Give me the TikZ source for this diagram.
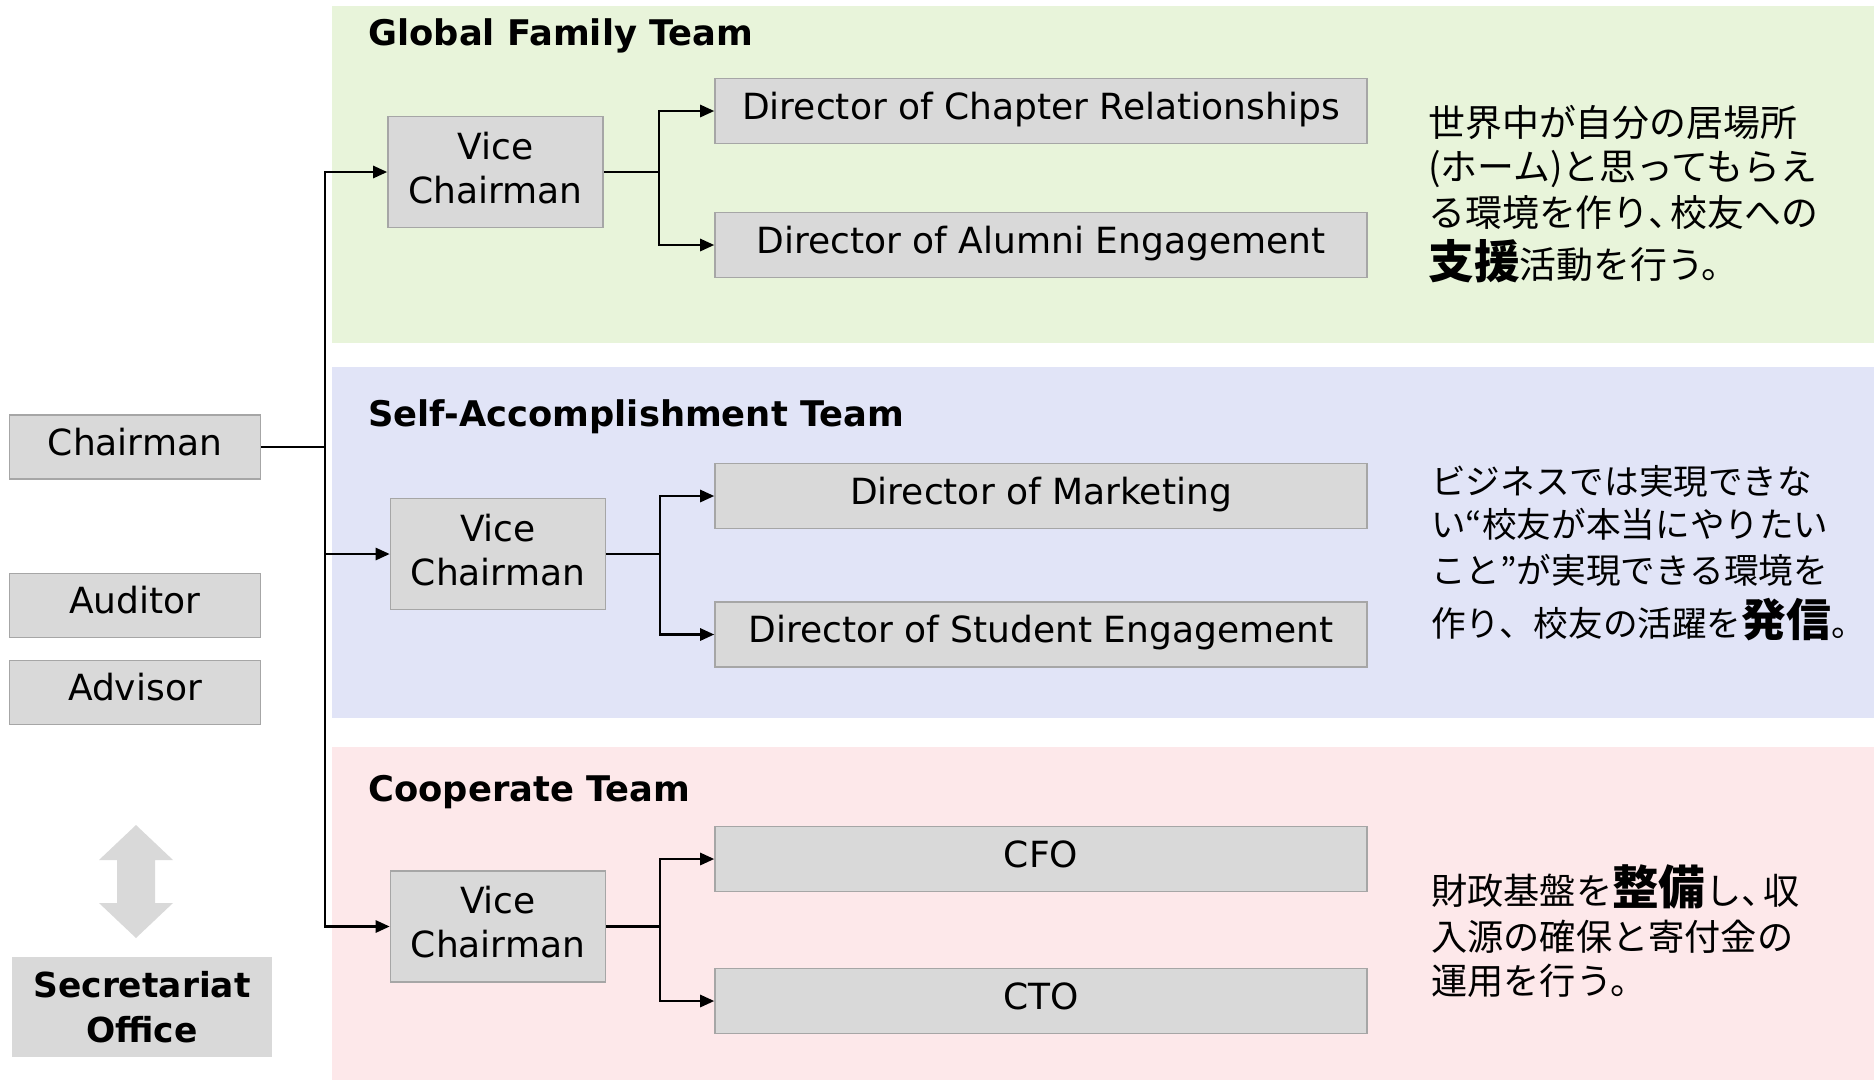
\documentclass[tikz,border=0pt]{standalone}
\usepackage{fontspec}
\setmainfont{DejaVu Sans}
\newfontfamily\cjk{Noto Sans CJK JP}
\usetikzlibrary{arrows.meta}
\definecolor{bandgreen}{HTML}{E8F4DA}
\definecolor{bandblue}{HTML}{E1E4F7}
\definecolor{bandpink}{HTML}{FDE8EA}
\definecolor{boxfill}{HTML}{D9D9D9}
\definecolor{boxline}{HTML}{A6A6A6}
\newcommand{\vicetext}{\raisebox{0pt}[1.42em][0.9em]{\begin{tabular}{@{}c@{}}Vice\\Chairman\end{tabular}}}
\newcommand{\jcomma}{、\kern-0.4em}
\tikzset{
  gbox/.style={draw=boxline, fill=boxfill, line width=1pt, inner sep=0pt, align=center,
    font=\fontsize{20.5}{25}\selectfont},
  lbox/.style={gbox, minimum width=5.02cm, minimum height=1.28cm, text height=15.4pt, text depth=6.15pt},
  vbox/.style={gbox, minimum width=4.3cm, minimum height=2.22cm},
  dbox/.style={gbox, minimum width=13.04cm, minimum height=1.3cm, text height=15.4pt, text depth=6.15pt},
  secbox/.style={fill=boxfill, inner sep=0pt, align=center, minimum width=5.2cm, minimum height=2cm,
    font=\bfseries\fontsize{19.6}{25.6}\selectfont},
  ttl/.style={anchor=base west, inner sep=0pt, font=\bfseries\fontsize{20.1}{21}\selectfont},
  conn/.style={line width=1.2pt, black},
  arr/.style={conn, -{Triangle[length=8pt,width=7pt]}},
  cja/.style={anchor=base west, inner sep=0pt, font=\cjk\fontsize{21}{21}\selectfont},
  cjb/.style={anchor=base west, inner sep=0pt, font=\cjk\fontsize{19.7}{20}\selectfont},
  cjc/.style={anchor=base west, inner sep=0pt, font=\cjk\fontsize{20.6}{21}\selectfont},
}
\begin{document}
\begin{tikzpicture}[x=0.02cm,y=-0.02cm]
\useasboundingbox (0,0) rectangle (1874,1080);
% bands
\fill[bandgreen] (332,6) rectangle (1874,343);
\fill[bandblue] (332,367) rectangle (1874,718);
\fill[bandpink] (332,747) rectangle (1874,1080);
% titles
\node[ttl] (t1) at (368,45) {Global Family Team};
\node[ttl] (t2) at (368,426) {Self-Accomplishment Team};
\node[ttl] (t3) at (368,801) {Cooperate Team};
% left column
\node[lbox] (chair) at (135,447) {Chairman};
\node[lbox] (aud) at (135,605.5) {Auditor};
\node[lbox] (adv) at (135,692.5) {Advisor};
\node[secbox] (sec) at (142,1007) {Secretariat\\Office};
\fill[boxfill] (136,825) -- (173,860) -- (155,860) -- (155,903) -- (173,903) -- (136,938)
  -- (99,903) -- (117,903) -- (117,860) -- (99,860) -- cycle;
% vice chairmen
\node[vbox] (v1) at (495.5,172) {\vicetext};
\node[vbox] (v2) at (498,554) {\vicetext};
\node[vbox] (v3) at (498,926.5) {\vicetext};
% directors
\node[dbox] (d1) at (1041,111) {Director of Chapter Relationships};
\node[dbox] (d2) at (1041,245) {Director of Alumni Engagement};
\node[dbox] (d3) at (1041,496) {Director of Marketing};
\node[dbox] (d4) at (1041,634.5) {Director of Student Engagement};
\node[dbox] (d5) at (1041,859) {CFO};
\node[dbox] (d6) at (1041,1001) {CTO};
% connectors
\coordinate (j) at (325,447);
\draw[conn] (chair.east) -- (j);
\draw[arr] (j) |- (v1.west);
\draw[arr] (j) |- (v3.west);
\draw[arr] (j |- v2.west) -- (v2.west);
\coordinate (b1) at (659,172);
\coordinate (b2) at (660,554);
\coordinate (b3) at (660,926.5);
\draw[arr] (v1.east) -- (b1) |- (d1.west);
\draw[arr] (b1) |- (d2.west);
\draw[arr] (v2.east) -- (b2) |- (d3.west);
\draw[arr] (b2) |- (d4.west);
\draw[arr] (v3.east) -- (b3) |- (d5.west);
\draw[arr] (b3) |- (d6.west);
% japanese texts
\node[cja] (ja1) at (1428,136) {世界中が自分の居場所};
\node[cja] (ja2) at (1428,180) {(ホーム)と思ってもらえ};
\node[cja] (ja3) at (1428,226) {る環境を作り\jcomma 校友への};
\node[cja] (ja4) at (1428,278) {{\bfseries\fontsize{26}{26}\selectfont 支援}活動を行う。};
\node[cjb] (jb1) at (1431,494) {ビジネスでは実現できな};
\node[cjb] (jb2) at (1431,537) {い“校友が本当にやりたい};
\node[cjb] (jb3) at (1431,583) {こと”が実現できる環境を};
\node[cjb] (jb4) at (1431,636) {作り、校友の活躍を{\bfseries\fontsize{25.5}{26}\selectfont 発信}。};
\node[cjc] (jc1) at (1431,904) {財政基盤を{\bfseries\fontsize{26.5}{27}\selectfont 整備}し\jcomma 収};
\node[cjc] (jc2) at (1431,950) {入源の確保と寄付金の};
\node[cjc] (jc3) at (1431,994) {運用を行う。};
\end{tikzpicture}
\end{document}
